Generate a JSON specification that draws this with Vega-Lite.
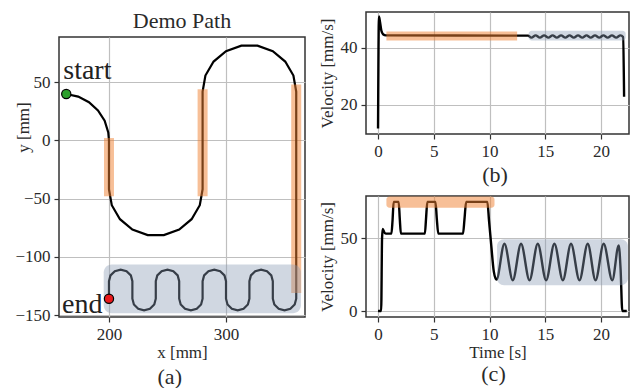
{
  "$schema": "https://vega.github.io/schema/vega-lite/v6.json",
  "background": "white",
  "padding": {"left": 13, "top": 9, "right": 0, "bottom": 0},
  "config": {
    "font": "Liberation Serif",
    "view": {"stroke": "#333333", "strokeWidth": 1.5},
    "axis": {"grid": true, "gridColor": "#bfbfbf", "gridWidth": 1.2, "domain": false, "tickColor": "#333333", "tickSize": 5, "tickWidth": 1.2, "labelFont": "Liberation Serif", "labelFontSize": 17, "labelColor": "#2a2a2a", "labelPadding": 4, "titleFont": "Liberation Serif", "titleFontSize": 17, "titleFontWeight": "normal", "titleColor": "#2a2a2a", "titlePadding": 2},
    "title": {"font": "Liberation Serif", "fontSize": 22, "fontWeight": "normal", "color": "#2a2a2a"}
  },
  "datasets": {
    "path": [
      {"i": 1, "x": 163.5, "y": 39.8}, {"i": 2, "x": 173.7, "y": 37.6}, {"i": 3, "x": 182.9, "y": 32.8}, {"i": 4, "x": 190.6, "y": 25.7}, {"i": 5, "x": 196.3, "y": 16.9}, {"i": 6, "x": 199.4, "y": 6.9}, {"i": 7, "x": 200, "y": 0}, {"i": 8, "x": 200, "y": -42},
      {"i": 9, "x": 202.4, "y": -55.7}, {"i": 10, "x": 209.4, "y": -67.7}, {"i": 11, "x": 220, "y": -76.6}, {"i": 12, "x": 233.1, "y": -81.4}, {"i": 13, "x": 246.9, "y": -81.4}, {"i": 14, "x": 260, "y": -76.6}, {"i": 15, "x": 270.6, "y": -67.7}, {"i": 16, "x": 277.6, "y": -55.7}, {"i": 17, "x": 280, "y": -42},
      {"i": 18, "x": 280, "y": 42}, {"i": 19, "x": 282.4, "y": 55.7}, {"i": 20, "x": 289.4, "y": 67.7}, {"i": 21, "x": 300, "y": 76.6}, {"i": 22, "x": 313.1, "y": 81.4}, {"i": 23, "x": 326.9, "y": 81.4}, {"i": 24, "x": 340, "y": 76.6}, {"i": 25, "x": 350.6, "y": 67.7}, {"i": 26, "x": 357.6, "y": 55.7}, {"i": 27, "x": 360, "y": 42},
      {"i": 28, "x": 360, "y": -136}, {"i": 29, "x": 358.7, "y": -141}, {"i": 30, "x": 355, "y": -144.7}, {"i": 31, "x": 350, "y": -146}, {"i": 32, "x": 345, "y": -144.7}, {"i": 33, "x": 341.3, "y": -141}, {"i": 34, "x": 340, "y": -136},
      {"i": 35, "x": 340, "y": -121}, {"i": 36, "x": 338.7, "y": -116}, {"i": 37, "x": 335, "y": -112.3}, {"i": 38, "x": 330, "y": -111}, {"i": 39, "x": 325, "y": -112.3}, {"i": 40, "x": 321.3, "y": -116}, {"i": 41, "x": 320, "y": -121},
      {"i": 42, "x": 320, "y": -136}, {"i": 43, "x": 318.7, "y": -141}, {"i": 44, "x": 315, "y": -144.7}, {"i": 45, "x": 310, "y": -146}, {"i": 46, "x": 305, "y": -144.7}, {"i": 47, "x": 301.3, "y": -141}, {"i": 48, "x": 300, "y": -136},
      {"i": 49, "x": 300, "y": -121}, {"i": 50, "x": 298.7, "y": -116}, {"i": 51, "x": 295, "y": -112.3}, {"i": 52, "x": 290, "y": -111}, {"i": 53, "x": 285, "y": -112.3}, {"i": 54, "x": 281.3, "y": -116}, {"i": 55, "x": 280, "y": -121},
      {"i": 56, "x": 280, "y": -136}, {"i": 57, "x": 278.7, "y": -141}, {"i": 58, "x": 275, "y": -144.7}, {"i": 59, "x": 270, "y": -146}, {"i": 60, "x": 265, "y": -144.7}, {"i": 61, "x": 261.3, "y": -141}, {"i": 62, "x": 260, "y": -136},
      {"i": 63, "x": 260, "y": -121}, {"i": 64, "x": 258.7, "y": -116}, {"i": 65, "x": 255, "y": -112.3}, {"i": 66, "x": 250, "y": -111}, {"i": 67, "x": 245, "y": -112.3}, {"i": 68, "x": 241.3, "y": -116}, {"i": 69, "x": 240, "y": -121},
      {"i": 70, "x": 240, "y": -136}, {"i": 71, "x": 238.7, "y": -141}, {"i": 72, "x": 235, "y": -144.7}, {"i": 73, "x": 230, "y": -146}, {"i": 74, "x": 225, "y": -144.7}, {"i": 75, "x": 221.3, "y": -141}, {"i": 76, "x": 220, "y": -136},
      {"i": 77, "x": 220, "y": -121}, {"i": 78, "x": 218.7, "y": -116}, {"i": 79, "x": 215, "y": -112.3}, {"i": 80, "x": 210, "y": -111}, {"i": 81, "x": 205, "y": -112.3}, {"i": 82, "x": 201.3, "y": -116}, {"i": 83, "x": 200, "y": -121},
      {"i": 84, "x": 200, "y": -136}
    ],
    "ends": [
      {"label": "start", "x": 163.5, "y": 39.8},
      {"label": "end", "x": 200, "y": -136}
    ],
    "bandsA": [
      {"x": 200, "y1": 2, "y2": -48},
      {"x": 280, "y1": 44, "y2": -48},
      {"x": 360, "y1": 48, "y2": -131}
    ],
    "boxA": [{"x1": 195.5, "x2": 364, "y1": -106.5, "y2": -148.5}],
    "vb": [
      {"t": 0, "v": 11.7}, {"t": 0.08, "v": 51}, {"t": 0.18, "v": 49}, {"t": 0.3, "v": 46}, {"t": 0.45, "v": 44.8}, {"t": 0.7, "v": 44.4}, {"t": 13.45, "v": 44.3},
      {"t": 13.75, "v": 43.6}, {"t": 14.13, "v": 44.4}, {"t": 14.51, "v": 43.6}, {"t": 14.89, "v": 44.4}, {"t": 15.27, "v": 43.6}, {"t": 15.65, "v": 44.4}, {"t": 16.03, "v": 43.6}, {"t": 16.41, "v": 44.4}, {"t": 16.79, "v": 43.6}, {"t": 17.17, "v": 44.4}, {"t": 17.55, "v": 43.6}, {"t": 17.93, "v": 44.4}, {"t": 18.31, "v": 43.6}, {"t": 18.69, "v": 44.4}, {"t": 19.07, "v": 43.6}, {"t": 19.45, "v": 44.4}, {"t": 19.83, "v": 43.6}, {"t": 20.21, "v": 44.4}, {"t": 20.59, "v": 43.6}, {"t": 20.97, "v": 44.4}, {"t": 21.35, "v": 43.6}, {"t": 21.73, "v": 44.4},
      {"t": 21.97, "v": 43.8}, {"t": 22.06, "v": 22.9}
    ],
    "bandsB": [{"t1": 0.75, "t2": 12.47, "v": 44.2}],
    "boxB": [{"t1": 13.5, "t2": 22.2, "v1": 42.6, "v2": 46.0}],
    "vc": [
      {"t": 0, "v": 0}, {"t": 0.28, "v": 0}, {"t": 0.36, "v": 50}, {"t": 0.42, "v": 56.2}, {"t": 0.55, "v": 54}, {"t": 0.7, "v": 53},
      {"t": 1.2, "v": 53}, {"t": 1.3, "v": 62}, {"t": 1.4, "v": 74.8}, {"t": 1.85, "v": 74.8}, {"t": 1.95, "v": 63}, {"t": 2.05, "v": 53},
      {"t": 4.2, "v": 53}, {"t": 4.3, "v": 63}, {"t": 4.42, "v": 74.8}, {"t": 5.15, "v": 74.8}, {"t": 5.27, "v": 63}, {"t": 5.4, "v": 53},
      {"t": 7.62, "v": 53}, {"t": 7.75, "v": 63}, {"t": 7.9, "v": 74.8}, {"t": 9.8, "v": 74.8}, {"t": 9.95, "v": 62}, {"t": 10.15, "v": 45}, {"t": 10.38, "v": 27}, {"t": 10.62, "v": 21.5},
      {"t": 11.33, "v": 46.1}, {"t": 12.08, "v": 21.1}, {"t": 12.82, "v": 46.1}, {"t": 13.58, "v": 21.1}, {"t": 14.32, "v": 46.1}, {"t": 15.07, "v": 21.1}, {"t": 15.81, "v": 46.1}, {"t": 16.57, "v": 21.1}, {"t": 17.3, "v": 46.1}, {"t": 18.06, "v": 21.1}, {"t": 18.8, "v": 46.1}, {"t": 19.5, "v": 21.1}, {"t": 20.23, "v": 46.1}, {"t": 21.0, "v": 21.1}, {"t": 21.58, "v": 45},
      {"t": 21.75, "v": 28}, {"t": 21.9, "v": 0}, {"t": 22.3, "v": 0}
    ],
    "bandsC": [{"t1": 0.75, "t2": 10.44, "v1": 70.7, "v2": 78.5}],
    "boxC": [{"t1": 10.67, "t2": 22.4, "v1": 17.7, "v2": 49.1}]
  },
  "spacing": 11,
  "hconcat": [
    {
      "title": {"text": "(a)", "orient": "bottom", "offset": 6, "anchor": "middle", "frame": "bounds", "dx": 10},
      "bounds": "flush",
      "spacing": 0,
      "vconcat": [
        {
          "width": 246,
          "height": 25,
          "view": {"stroke": null},
          "data": {"values": []},
          "mark": "point"
        },
        {
          "title": {"text": "Demo Path", "offset": 3.75, "anchor": "middle"},
          "width": 246,
          "height": 280,
          "layer": [
            {
              "data": {"name": "path"},
              "mark": {"type": "line", "color": "black", "strokeWidth": 2.2, "clip": true},
              "encoding": {
                "x": {"field": "x", "type": "quantitative", "scale": {"domain": [157.3, 367.5], "nice": false, "zero": false}, "axis": {"values": [200, 300], "title": "x [mm]"}},
                "y": {"field": "y", "type": "quantitative", "scale": {"domain": [-151.7, 88.8], "nice": false, "zero": false}, "axis": {"values": [-150, -100, -50, 0, 50], "title": "y [mm]", "titleX": -35.5, "titleY": 90, "titleAlign": "center", "titleBaseline": "middle", "titleAngle": -90}},
                "order": {"field": "i", "type": "quantitative"}
              }
            },
            {
              "data": {"name": "bandsA"},
              "mark": {"type": "rule", "color": "#f08030", "opacity": 0.5, "strokeWidth": 10},
              "encoding": {
                "x": {"field": "x", "type": "quantitative"},
                "y": {"field": "y1", "type": "quantitative"},
                "y2": {"field": "y2"}
              }
            },
            {
              "data": {"name": "boxA"},
              "mark": {"type": "rect", "color": "#8a9bb4", "opacity": 0.4, "cornerRadius": 8},
              "encoding": {
                "x": {"field": "x1", "type": "quantitative"},
                "x2": {"field": "x2"},
                "y": {"field": "y1", "type": "quantitative"},
                "y2": {"field": "y2"}
              }
            },
            {
              "data": {"name": "ends"},
              "mark": {"type": "point", "filled": true, "size": 85, "stroke": "black", "strokeWidth": 1.2, "opacity": 1},
              "encoding": {
                "x": {"field": "x", "type": "quantitative"},
                "y": {"field": "y", "type": "quantitative"},
                "fill": {"field": "label", "type": "nominal", "scale": {"domain": ["start", "end"], "range": ["#2ca02c", "#e8191c"]}, "legend": null}
              }
            },
            {
              "data": {"name": "ends"},
              "transform": [{"filter": "datum.label === 'start'"}],
              "mark": {"type": "text", "align": "left", "baseline": "alphabetic", "dx": -3, "dy": -15.5, "fontSize": 28, "font": "Liberation Serif", "color": "#222222"},
              "encoding": {
                "x": {"field": "x", "type": "quantitative"},
                "y": {"field": "y", "type": "quantitative"},
                "text": {"field": "label"}
              }
            },
            {
              "data": {"name": "ends"},
              "transform": [{"filter": "datum.label === 'end'"}],
              "mark": {"type": "text", "align": "right", "baseline": "alphabetic", "dx": -6.5, "dy": 14.7, "fontSize": 28, "font": "Liberation Serif", "color": "#222222"},
              "encoding": {
                "x": {"field": "x", "type": "quantitative"},
                "y": {"field": "y", "type": "quantitative"},
                "text": {"field": "label"}
              }
            }
          ]
        }
      ]
    },
    {
      "bounds": "flush",
      "spacing": 62,
      "vconcat": [
        {
          "title": {"text": "(b)", "orient": "bottom", "offset": 6, "anchor": "middle", "frame": "group", "dx": -2.5},
          "width": 263,
          "height": 122,
          "layer": [
            {
              "data": {"name": "vb"},
              "mark": {"type": "line", "color": "black", "strokeWidth": 2.4, "interpolate": "monotone", "clip": true},
              "encoding": {
                "x": {"field": "t", "type": "quantitative", "scale": {"domain": [-1.08, 22.5], "nice": false, "zero": false}, "axis": {"values": [0, 5, 10, 15, 20], "title": null}},
                "y": {"field": "v", "type": "quantitative", "scale": {"domain": [9.8, 52.6], "nice": false, "zero": false}, "axis": {"values": [20, 40], "title": "Velocity [mm/s]", "titleX": -38.5, "titleY": 61, "titleAlign": "center", "titleBaseline": "middle", "titleAngle": -90}}
              }
            },
            {
              "data": {"name": "bandsB"},
              "mark": {"type": "rule", "color": "#f08030", "opacity": 0.5, "strokeWidth": 9},
              "encoding": {
                "x": {"field": "t1", "type": "quantitative"},
                "x2": {"field": "t2"},
                "y": {"field": "v", "type": "quantitative"}
              }
            },
            {
              "data": {"name": "boxB"},
              "mark": {"type": "rect", "color": "#8a9bb4", "opacity": 0.4, "cornerRadius": 3},
              "encoding": {
                "x": {"field": "t1", "type": "quantitative"},
                "x2": {"field": "t2"},
                "y": {"field": "v1", "type": "quantitative"},
                "y2": {"field": "v2"}
              }
            }
          ]
        },
        {
          "title": {"text": "(c)", "orient": "bottom", "offset": 4, "anchor": "middle", "frame": "group", "dx": -4},
          "width": 263,
          "height": 121,
          "layer": [
            {
              "data": {"name": "vc"},
              "mark": {"type": "line", "color": "black", "strokeWidth": 2.4, "interpolate": "monotone", "clip": true},
              "encoding": {
                "x": {"field": "t", "type": "quantitative", "scale": {"domain": [-1.08, 22.5], "nice": false, "zero": false}, "axis": {"values": [0, 5, 10, 15, 20], "title": "Time [s]"}},
                "y": {"field": "v", "type": "quantitative", "scale": {"domain": [-4.1, 78.8], "nice": false, "zero": false}, "axis": {"values": [0, 50], "title": "Velocity [mm/s]", "titleX": -38.5, "titleY": 60.5, "titleAlign": "center", "titleBaseline": "middle", "titleAngle": -90}}
              }
            },
            {
              "data": {"name": "bandsC"},
              "mark": {"type": "rect", "color": "#f08030", "opacity": 0.5, "cornerRadius": 3, "clip": true},
              "encoding": {
                "x": {"field": "t1", "type": "quantitative"},
                "x2": {"field": "t2"},
                "y": {"field": "v1", "type": "quantitative"},
                "y2": {"field": "v2"}
              }
            },
            {
              "data": {"name": "boxC"},
              "mark": {"type": "rect", "color": "#8a9bb4", "opacity": 0.4, "cornerRadius": 7, "clip": true},
              "encoding": {
                "x": {"field": "t1", "type": "quantitative"},
                "x2": {"field": "t2"},
                "y": {"field": "v1", "type": "quantitative"},
                "y2": {"field": "v2"}
              }
            }
          ]
        }
      ]
    }
  ]
}
